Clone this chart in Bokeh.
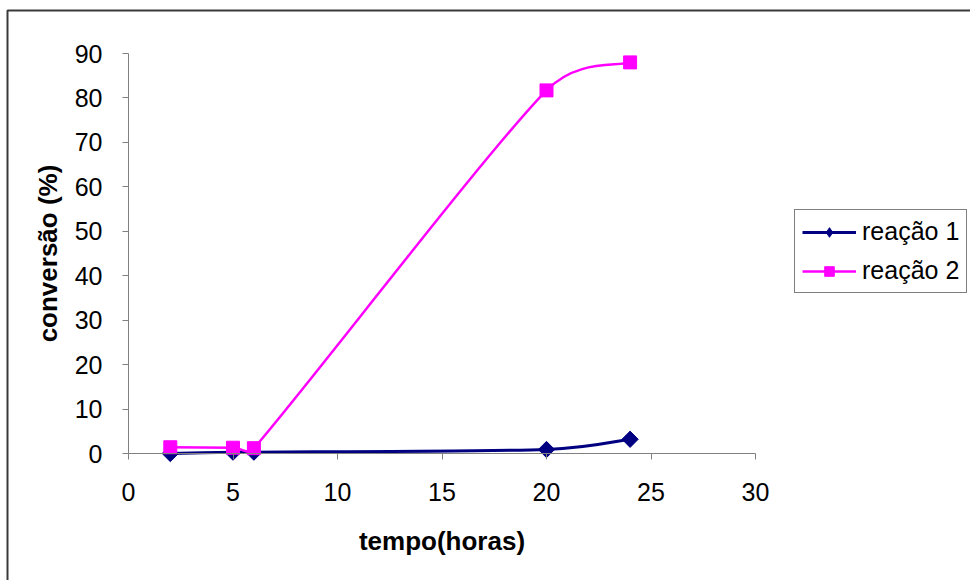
import math
from bokeh.plotting import figure
from bokeh.models import (Range1d, FixedTicker, LinearAxis, Legend, LegendItem,
                          BoxAnnotation, ColumnDataSource)
from bokeh.embed import file_html
from bokeh.resources import INLINE

# ---- data ----
tempo = [2, 5, 6, 20, 24]
reacao1 = [0.0, 0.3, 0.3, 0.9, 3.2]
reacao2 = [1.4, 1.3, 1.2, 81.7, 88.0]
x_ticks = [0, 5, 10, 15, 20, 25, 30]
y_ticks = [0, 10, 20, 30, 40, 50, 60, 70, 80, 90]
series_names = ["reação 1", "reação 2"]

# ---- layout (pixels) ----
W, H = 970, 580
X0_PX, X1_PX = 128, 755      # x=0 and x=30
Y0_PX, Y1_PX = 453, 53       # y=0 and y=90
SX = (X1_PX - X0_PX) / 30.0
SY = (Y0_PX - Y1_PX) / 90.0

x_range = Range1d(-X0_PX / SX, 30 + (W - X1_PX) / SX)
y_range = Range1d(-(H - Y0_PX) / SY, 90 + Y1_PX / SY)

p = figure(width=W, height=H, output_backend="svg", toolbar_location=None,
           x_range=x_range, y_range=y_range, x_axis_type=None, y_axis_type=None,
           min_border=0, min_border_left=0, min_border_right=0,
           min_border_top=0, min_border_bottom=0)
p.outline_line_color = None
p.background_fill_color = "white"
p.border_fill_color = "white"

FONT = "Liberation Sans"
AX_COLOR = "#808080"

xaxis = LinearAxis(fixed_location=0, bounds=(0, 30), ticker=FixedTicker(ticks=x_ticks),
                   axis_label="tempo(horas)")
yaxis = LinearAxis(fixed_location=0, bounds=(0, 90), ticker=FixedTicker(ticks=y_ticks),
                   axis_label="conversão (%)")
for ax in (xaxis, yaxis):
    ax.axis_line_color = AX_COLOR
    ax.major_tick_line_color = AX_COLOR
    ax.minor_tick_line_color = None
    ax.major_tick_in = 0
    ax.major_tick_out = 6
    ax.major_label_text_font = FONT
    ax.major_label_text_font_size = "25px"
    ax.major_label_text_color = "black"
    ax.axis_label_text_font = FONT
    ax.axis_label_text_font_size = "26px"
    ax.axis_label_text_font_style = "bold"
    ax.axis_label_text_color = "black"
xaxis.major_label_standoff = 23
xaxis.axis_label_standoff = 22
yaxis.major_label_standoff = 20
yaxis.axis_label_standoff = 9
p.add_layout(xaxis, "below")
p.add_layout(yaxis, "left")


def smooth_controls(xs, ys):
    """Excel-like smoothed line: cubic Bezier control points (computed in pixel space)."""
    pts = [(x * SX, y * SY) for x, y in zip(xs, ys)]
    n = len(pts)
    cx0, cy0, cx1, cy1 = [], [], [], []
    for i in range(n - 1):
        p0 = pts[i - 1] if i > 0 else pts[i]
        p1 = pts[i]
        p2 = pts[i + 1]
        p3 = pts[i + 2] if i + 2 < n else pts[i + 1]
        d12 = math.hypot(p2[0] - p1[0], p2[1] - p1[1])
        d02 = math.hypot(p2[0] - p0[0], p2[1] - p0[1])
        d13 = math.hypot(p3[0] - p1[0], p3[1] - p1[1])
        f1 = 1 / 6
        if d02 / 6 > d12 / 2 and d02 > 0:
            f1 = (d12 / 2) / d02
        f2 = 1 / 6
        if d13 / 6 > d12 / 2 and d13 > 0:
            f2 = (d12 / 2) / d13
        a = (p1[0] + f1 * (p2[0] - p0[0]), p1[1] + f1 * (p2[1] - p0[1]))
        b = (p2[0] - f2 * (p3[0] - p1[0]), p2[1] - f2 * (p3[1] - p1[1]))
        cx0.append(a[0] / SX); cy0.append(a[1] / SY)
        cx1.append(b[0] / SX); cy1.append(b[1] / SY)
    return dict(x0=xs[:-1], y0=ys[:-1], x1=xs[1:], y1=ys[1:],
                cx0=cx0, cy0=cy0, cx1=cx1, cy1=cy1)


c1, c2 = "#000080", "#FF00FF"
b1 = p.bezier(source=ColumnDataSource(smooth_controls(tempo, reacao1)),
              x0="x0", y0="y0", x1="x1", y1="y1", cx0="cx0", cy0="cy0", cx1="cx1", cy1="cy1",
              line_color=c1, line_width=3)
# narrow diamond (used for the legend swatch), covered by the rotated squares on the plot
d1 = p.scatter(tempo, reacao1, marker="diamond", size=15, fill_color=c1, line_color=c1)
s1 = p.scatter(tempo, reacao1, marker="square", angle=math.pi / 4, size=11.5,
               fill_color=c1, line_color=c1)
b2 = p.bezier(source=ColumnDataSource(smooth_controls(tempo, reacao2)),
              x0="x0", y0="y0", x1="x1", y1="y1", cx0="cx0", cy0="cy0", cx1="cx1", cy1="cy1",
              line_color=c2, line_width=2.5)
s2 = p.scatter(tempo, reacao2, marker="square", size=13, fill_color=c2, line_color=c2)

legend = Legend(items=[LegendItem(label=series_names[0], renderers=[b1, d1], index=0),
                       LegendItem(label=series_names[1], renderers=[b2, s2], index=0)],
                location=(794, H - 293))
legend.label_text_font = FONT
legend.label_text_font_size = "25px"
legend.label_text_color = "black"
legend.label_height = 24
legend.glyph_height = 24
legend.glyph_width = 54
legend.label_standoff = 6
legend.spacing = 10
legend.padding = 7
legend.margin = 0
legend.border_line_color = "black"
legend.border_line_width = 1
legend.background_fill_color = "white"
legend.background_fill_alpha = 1
p.add_layout(legend)

# outer chart-area border (left and top edges visible in the window)
border = BoxAnnotation(left=7, right=W + 20, top=H - 10, bottom=-20,
                       left_units="screen", right_units="screen",
                       top_units="screen", bottom_units="screen",
                       fill_color=None, fill_alpha=0,
                       line_color="#3a3a3a", line_alpha=1, line_width=2)
p.add_layout(border)

open("out.html", "w").write(file_html(p, INLINE))
